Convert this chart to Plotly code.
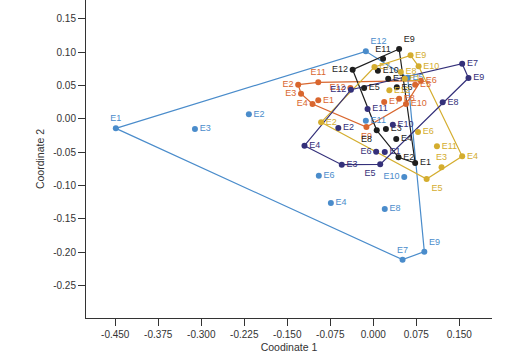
import plotly.graph_objects as go

labels = ["E1", "E2", "E3", "E4", "E5", "E6", "E7", "E8", "E9", "E10", "E11", "E12"]

# group 1 (light blue)
g1_x = [-0.449, -0.217, -0.311, -0.074, 0.060, -0.095, 0.051, 0.020, 0.089, 0.054, -0.013, -0.013]
g1_y = [-0.0145, 0.0065, -0.0155, -0.1265, 0.0615, -0.0855, -0.2115, -0.1355, -0.1995, -0.0875, -0.003, 0.101]
# group 2 (orange)
g2_x = [-0.096, -0.131, -0.126, -0.106, 0.073, 0.083, 0.019, 0.045, -0.012, 0.057, -0.096, -0.040]
g2_y = [0.0275, 0.051, 0.0375, 0.022, 0.051, 0.057, 0.025, 0.030, -0.0125, 0.022, 0.0545, 0.046]
# group 3 (black)
g3_x = [0.073, 0.044, 0.022, 0.040, -0.016, 0.041, 0.026, 0.006, 0.045, 0.008, 0.017, -0.036]
g3_y = [-0.0665, -0.058, -0.0155, -0.0305, 0.046, 0.047, 0.060, -0.0175, 0.1045, 0.072, 0.090, 0.0735]
# group 4 (gold)
g4_x = [0.055, -0.091, 0.119, 0.155, 0.093, 0.078, 0.002, 0.048, 0.065, 0.079, 0.111, 0.028]
g4_y = [0.060, -0.0055, -0.073, -0.0565, -0.0905, -0.020, 0.0775, 0.070, 0.095, 0.0785, -0.0415, 0.0425]
# group 5 (navy)
g5_x = [0.020, -0.061, -0.055, -0.120, 0.012, 0.005, 0.155, 0.121, 0.166, 0.034, -0.010, -0.039]
g5_y = [-0.050, -0.014, -0.069, -0.0405, -0.0685, -0.0495, 0.0825, 0.0245, 0.061, -0.009, 0.0145, 0.0435]

x_ticks = [-0.450, -0.375, -0.300, -0.225, -0.150, -0.075, 0.000, 0.075, 0.150]
y_ticks = [0.15, 0.10, 0.05, 0.00, -0.05, -0.10, -0.15, -0.20, -0.25]

groups = [
    (g1_x, g1_y, "#4a8ccb", {"E1": "top center", "E7": "top center", "E10": "middle left", "E12": "top right", "E9": "top right"}),
    (g2_x, g2_y, "#d9662e", {"E2": "middle left", "E3": "middle left", "E4": "middle left", "E9": "bottom center", "E11": "top center", "E12": "middle left"}),
    (g3_x, g3_y, "#1e1e1e", {"E12": "middle left", "E11": "top center", "E8": "bottom left", "E9": "top right"}),
    (g4_x, g4_y, "#d4ad2e", {"E5": "bottom right", "E3": "top center"}),
    (g5_x, g5_y, "#34307a", {"E6": "middle left", "E5": "bottom left", "E12": "middle left"}),
]


def hull(xs, ys):
    pts = sorted(set(zip(xs, ys)))

    def cross(o, a, b):
        return (a[0] - o[0]) * (b[1] - o[1]) - (a[1] - o[1]) * (b[0] - o[0])

    lower, upper = [], []
    for p in pts:
        while len(lower) >= 2 and cross(lower[-2], lower[-1], p) <= 0:
            lower.pop()
        lower.append(p)
    for p in reversed(pts):
        while len(upper) >= 2 and cross(upper[-2], upper[-1], p) <= 0:
            upper.pop()
        upper.append(p)
    h = lower[:-1] + upper[:-1]
    h.append(h[0])
    return [p[0] for p in h], [p[1] for p in h]


fig = go.Figure()
for xs, ys, col, tp in groups:
    hx, hy = hull(xs, ys)
    fig.add_trace(go.Scatter(x=hx, y=hy, mode="lines", line=dict(color=col, width=1.2),
                             hoverinfo="skip", showlegend=False))
for xs, ys, col, tp in groups:
    fig.add_trace(go.Scatter(
        x=xs, y=ys, mode="markers+text", text=labels,
        textposition=[tp.get(l, "middle right") for l in labels],
        textfont=dict(color=col, size=9, family="Arial, Liberation Sans"),
        marker=dict(color=col, size=6), showlegend=False, cliponaxis=False))

axis_common = dict(showline=True, linecolor="#333333", linewidth=1, ticks="outside",
                   ticklen=7, tickcolor="#333333", showgrid=False, zeroline=False,
                   automargin=False,
                   tickfont=dict(size=10, color="#333333", family="Arial, Liberation Sans"))

fig.update_layout(
    width=528, height=360,
    margin=dict(l=86, r=36, t=0, b=42),
    paper_bgcolor="white", plot_bgcolor="white",
    font=dict(family="Arial, Liberation Sans", color="#333333"),
    xaxis=dict(range=[-0.501, 0.207], tickvals=x_ticks,
               ticktext=[f"{v:.3f}" for v in x_ticks],
               title=dict(text="Coodinate 1", font=dict(size=10.5), standoff=4), **axis_common),
    yaxis=dict(range=[-0.299, 0.178], tickvals=y_ticks,
               ticktext=[f"{v:.2f}" for v in y_ticks],
               title=dict(text="Coordinate 2", font=dict(size=10.5), standoff=6), **axis_common),
)

fig.write_html("out.html", config={"displayModeBar": False},
               post_script="document.body.style.margin='0';")
